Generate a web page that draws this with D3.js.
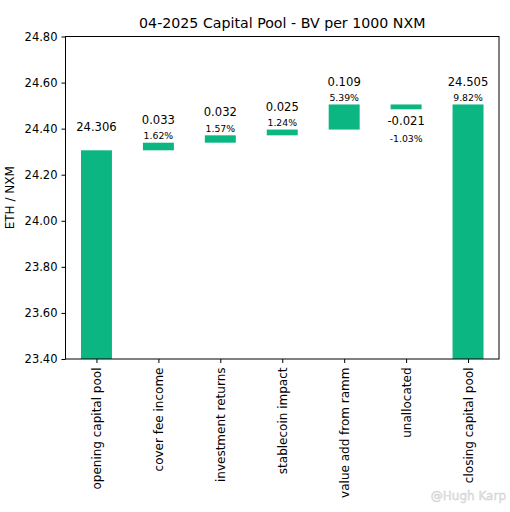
<!DOCTYPE html>
<html>
<head>
<meta charset="utf-8">
<script src="https://cdn.jsdelivr.net/npm/d3@7"></script>
<style>
  body { margin: 0; background: #fff; }
  svg, svg text { font-family: "DejaVu Sans", sans-serif; }
</style>
</head>
<body>
<div id="chart"></div>
<script>
// chart data
const categories = ["opening capital pool", "cover fee income", "investment returns", "stablecoin impact",
                    "value add from ramm", "unallocated", "closing capital pool"];
const values = [24.306, 0.033, 0.032, 0.025, 0.109, -0.021, 24.505];
const valueLabels = ["24.306", "0.033", "0.032", "0.025", "0.109", "-0.021", "24.505"];
const pctLabels = ["", "1.62%", "1.57%", "1.24%", "5.39%", "-1.03%", "9.82%"];
const yTicks = [23.4, 23.6, 23.8, 24.0, 24.2, 24.4, 24.6, 24.8];

const width = 510, height = 512;
const margin = {top: 36.5, right: 11, bottom: 153, left: 65.5};
const innerW = width - margin.left - margin.right;
const innerH = height - margin.top - margin.bottom;
const barColor = "#0bb682";

const svg = d3.select("#chart").append("svg")
    .attr("width", width)
    .attr("height", height);

const g = svg.append("g")
    .attr("transform", `translate(${margin.left},${margin.top})`);

// x is linear over index, like matplotlib's bar positions
const x = d3.scaleLinear().domain([-0.5, categories.length - 0.5]).range([0, innerW]);
const y = d3.scaleLinear().domain([23.4, 24.8]).range([innerH, 0]);
const barW = x(0.5) - x(0);

// compute bar extents (first and last are totals)
let running = 0;
const bars = values.map((v, i) => {
    let lo, hi;
    if (i === 0 || i === values.length - 1) {
        lo = 23.4; hi = v; running = v;
    } else {
        const start = running;
        running = start + v;
        lo = Math.min(start, running); hi = Math.max(start, running);
    }
    return {i, v, lo, hi};
});

g.selectAll("rect.bar")
    .data(bars)
    .enter()
    .append("rect")
    .attr("class", "bar")
    .attr("x", d => x(d.i) - barW / 2)
    .attr("width", barW)
    .attr("y", d => y(d.hi))
    .attr("height", d => Math.max(0, y(d.lo) - y(d.hi)))
    .attr("fill", barColor);

// value + percent labels
bars.forEach(d => {
    const cx = x(d.i);
    if (d.v < 0) {
        const base = y(d.lo);
        g.append("text").attr("x", cx).attr("y", base + 12).attr("dy", "0.36em")
            .attr("text-anchor", "middle").style("font-size", "11.6px").text(valueLabels[d.i]);
        g.append("text").attr("x", cx).attr("y", base + 29).attr("dy", "0.36em")
            .attr("text-anchor", "middle").style("font-size", "9.3px").text(pctLabels[d.i]);
    } else {
        const top = y(d.hi);
        g.append("text").attr("x", cx).attr("y", top - 23).attr("dy", "0.36em")
            .attr("text-anchor", "middle").style("font-size", "11.6px").text(valueLabels[d.i]);
        if (pctLabels[d.i]) {
            g.append("text").attr("x", cx).attr("y", top - 7).attr("dy", "0.36em")
                .attr("text-anchor", "middle").style("font-size", "9.3px").text(pctLabels[d.i]);
        }
    }
});

// axes
const yAxis = g.append("g")
    .call(d3.axisLeft(y).tickValues(yTicks).tickFormat(d3.format(".2f")).tickSize(4).tickPadding(4))
    .attr("font-family", "DejaVu Sans");
yAxis.select(".domain").remove();
yAxis.selectAll("text").style("font-size", "11.5px").attr("fill", "#000");

const xAxis = g.append("g")
    .attr("transform", `translate(0,${innerH})`)
    .call(d3.axisBottom(x).tickValues(d3.range(categories.length)).tickFormat(i => categories[i]).tickSize(4))
    .attr("font-family", "DejaVu Sans");
xAxis.select(".domain").remove();
xAxis.selectAll("text")
    .style("font-size", "12px")
    .attr("fill", "#000")
    .attr("transform", "rotate(-90)")
    .attr("x", -8.5)
    .attr("y", 0)
    .attr("dy", "0.36em")
    .attr("text-anchor", "end");

// frame
g.append("rect")
    .attr("width", innerW)
    .attr("height", innerH)
    .attr("fill", "none")
    .attr("stroke", "#000")
    .attr("stroke-width", 1);

// title and axis label
svg.append("text")
    .attr("x", margin.left + innerW / 2)
    .attr("y", 28)
    .attr("text-anchor", "middle")
    .style("font-size", "14.2px")
    .text("04-2025 Capital Pool - BV per 1000 NXM");

svg.append("text")
    .attr("transform", `translate(13.5,${margin.top + innerH / 2}) rotate(-90)`)
    .attr("text-anchor", "middle")
    .style("font-size", "12px")
    .text("ETH / NXM");

// watermark
svg.append("text")
    .attr("x", 506)
    .attr("y", 500)
    .attr("text-anchor", "end")
    .style("font-size", "12px")
    .attr("fill", "#e4e4e4")
    .attr("stroke", "#cfcfcf")
    .attr("stroke-width", 0.4)
    .text("@Hugh Karp");
</script>
</body>
</html>
